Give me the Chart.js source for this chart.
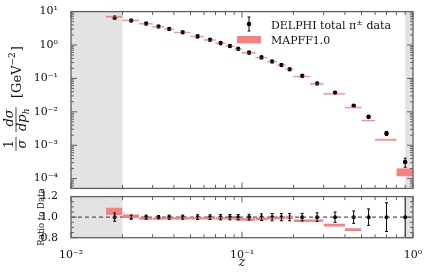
<!DOCTYPE html>
<html>
<head>
<meta charset="utf-8">
<script src="https://cdn.jsdelivr.net/npm/chart.js@4.4.0/dist/chart.umd.min.js"></script>
<style>
  html, body { margin: 0; padding: 0; background: #fff; }
  #wrap { position: relative; width: 427px; height: 273px; overflow: hidden; }
  canvas { position: absolute; left: 0; }
  #top { top: 0; }
  #bot { top: 185px; }
</style>
</head>
<body>
<div id="wrap">
  <canvas id="top" width="427" height="200"></canvas>
  <canvas id="bot" width="427" height="88"></canvas>
</div>
<script>
const FONT = "'DejaVu Serif', serif";
const PINK = 'rgb(248,128,128)';
const FRAME = '#606060';

// z bins of the DELPHI pi+- measurement
const zLo  = [0.016, 0.02, 0.025, 0.03, 0.035, 0.04, 0.05, 0.06, 0.07, 0.08, 0.09, 0.10, 0.12, 0.14, 0.16, 0.18, 0.20, 0.25, 0.30, 0.40, 0.50, 0.60, 0.80];
const zHi  = [0.02, 0.025, 0.03, 0.035, 0.04, 0.05, 0.06, 0.07, 0.08, 0.09, 0.10, 0.12, 0.14, 0.16, 0.18, 0.20, 0.25, 0.30, 0.40, 0.50, 0.60, 0.80, 1.00];
const zMid = [0.018, 0.0225, 0.0275, 0.0325, 0.0375, 0.045, 0.055, 0.065, 0.075, 0.085, 0.095, 0.11, 0.13, 0.15, 0.17, 0.19, 0.225, 0.275, 0.35, 0.45, 0.55, 0.70, 0.90];

// 1/sigma dsigma/dp_h [GeV^-2]
const delphi = [6.6, 5.42, 4.37, 3.58, 3.0, 2.41, 1.81, 1.43, 1.14, 0.936, 0.769, 0.591, 0.425, 0.32, 0.251, 0.189, 0.119, 0.0706, 0.0373, 0.0152, 0.00706, 0.00226, 0.000314];
// relative uncertainty of the data
const delphiErr = [0.04, 0.02, 0.02, 0.015, 0.02, 0.02, 0.023, 0.023, 0.026, 0.026, 0.026, 0.028, 0.032, 0.035, 0.035, 0.036, 0.037, 0.042, 0.05, 0.06, 0.08, 0.14, 0.3];

// MAPFF1.0 band, as ratio to data
const mapffLo = [1.02, 0.992, 0.974, 0.975, 0.976, 0.978, 0.978, 0.978, 0.978, 0.976, 0.968, 0.966, 0.97, 0.978, 0.979, 0.985, 0.953, 0.955, 0.91, 0.866, 0.77, 0.62, 0.38];
const mapffHi = [1.092, 1.027, 0.997, 0.995, 0.996, 1.0, 1.0, 1.0, 0.999, 0.997, 0.992, 0.99, 0.996, 1.0, 1.0, 1.013, 0.977, 0.977, 0.935, 0.892, 0.79, 0.66, 0.63];

// axis ranges and tick labels
const xRange = [0.01, 1];
const xTickVals = [0.01, 0.1, 1];
const xTickLabels = ['10\u207B\u00B2', '10\u207B\u00B9', '10\u2070'];
const yTopRange = [5.1e-5, 10];
const yTopTickVals = [1e-4, 1e-3, 1e-2, 1e-1, 1, 10];
const yTopTickLabels = ['10\u207B\u2074', '10\u207B\u00B3', '10\u207B\u00B2', '10\u207B\u00B9', '10\u2070', '10\u00B9'];
const ratioRange = [0.8, 1.2];
const ratioTickVals = [0.8, 1.0, 1.2];
const ratioTickLabels = ['0.8', '1.0', '1.2'];
const excluded = [[0.01, 0.02], [0.9, 1]];

function labelFor(vals, labels) {
  return function (v) {
    const i = vals.findIndex(t => Math.abs(Math.log10(t) - Math.log10(v)) < 1e-6);
    return i >= 0 ? labels[i] : '';
  };
}

function bandSets(lo, hi, bw, border) {
  const sets = [];
  zLo.forEach((a, i) => {
    const b = zHi[i];
    sets.push({ data: [{ x: a, y: hi[i] }, { x: b, y: hi[i] }], fill: '+1', backgroundColor: PINK,
      borderColor: border, borderWidth: bw, pointRadius: 0 });
    sets.push({ data: [{ x: a, y: lo[i] }, { x: b, y: lo[i] }], fill: false,
      borderColor: border, borderWidth: bw, pointRadius: 0 });
  });
  return sets;
}

function logMinor(lo, hi) {
  const out = [];
  for (let e = Math.floor(Math.log10(lo)); e <= Math.ceil(Math.log10(hi)); e++) {
    for (let k = 1; k <= 9; k++) {
      const v = k * Math.pow(10, e);
      if (v >= lo * 0.9999 && v <= hi * 1.0001) out.push({ v, major: k === 1 });
    }
  }
  return out;
}

// grey shaded z ranges
const shadePlugin = {
  id: 'shade',
  beforeDatasetsDraw(chart) {
    const { ctx, chartArea: a, scales: { x } } = chart;
    ctx.save();
    ctx.fillStyle = '#e3e3e3';
    excluded.forEach(([l, r]) => {
      const x1 = x.getPixelForValue(l), x2 = x.getPixelForValue(r);
      ctx.fillRect(x1, a.top, x2 - x1, a.height);
    });
    ctx.restore();
  }
};

function errorBars(chart, vals, errs, cap) {
  const { ctx, chartArea: a, scales: { x, y } } = chart;
  ctx.save();
  ctx.beginPath();
  ctx.rect(a.left, a.top, a.width, a.height);
  ctx.clip();
  ctx.strokeStyle = '#000';
  ctx.lineWidth = 1;
  zMid.forEach((z, i) => {
    const px = x.getPixelForValue(z);
    const y1 = y.getPixelForValue(vals[i] * (1 + errs[i]));
    const y2 = y.getPixelForValue(vals[i] * (1 - errs[i]));
    ctx.beginPath();
    ctx.moveTo(px, y1); ctx.lineTo(px, y2);
    ctx.moveTo(px - cap, y1); ctx.lineTo(px + cap, y1);
    ctx.moveTo(px - cap, y2); ctx.lineTo(px + cap, y2);
    ctx.stroke();
  });
  ctx.restore();
}

function frameAndTicks(chart, yTicks) {
  const { ctx, chartArea: a, scales: { x, y } } = chart;
  ctx.save();
  ctx.strokeStyle = FRAME;
  ctx.lineWidth = 1;
  ctx.beginPath();
  logMinor(xRange[0], xRange[1]).forEach(t => {
    const px = x.getPixelForValue(t.v);
    const len = t.major ? 6 : 3.5;
    ctx.moveTo(px, a.top); ctx.lineTo(px, a.top + len);
    ctx.moveTo(px, a.bottom); ctx.lineTo(px, a.bottom - len);
  });
  yTicks.forEach(t => {
    const py = y.getPixelForValue(t.v);
    const len = t.major ? 6 : 3;
    ctx.moveTo(a.left, py); ctx.lineTo(a.left + len, py);
    ctx.moveTo(a.right, py); ctx.lineTo(a.right - len, py);
  });
  ctx.stroke();
  ctx.lineWidth = 1.3;
  ctx.strokeRect(a.left, a.top, a.width, a.height);
  ctx.restore();
}

function rotText(ctx, txt, u, v, font, align) {
  ctx.font = font;
  ctx.textAlign = align || 'center';
  ctx.fillText(txt, u, v);
}

const topDeco = {
  id: 'topDeco',
  afterDatasetsDraw(chart) {
    errorBars(chart, delphi, delphiErr, 1.5);
    frameAndTicks(chart, logMinor(yTopRange[0], yTopRange[1]));
    const { ctx } = chart;
    // legend
    ctx.save();
    ctx.strokeStyle = '#000';
    ctx.fillStyle = '#000';
    ctx.lineWidth = 1;
    ctx.beginPath();
    ctx.moveTo(249, 17); ctx.lineTo(249, 31);
    ctx.moveTo(247.5, 17); ctx.lineTo(250.5, 17);
    ctx.moveTo(247.5, 31); ctx.lineTo(250.5, 31);
    ctx.stroke();
    ctx.beginPath(); ctx.arc(249, 24, 2.2, 0, Math.PI * 2); ctx.fill();
    ctx.fillStyle = PINK;
    ctx.fillRect(237, 36, 24, 7.5);
    ctx.fillStyle = '#111';
    ctx.font = `11px ${FONT}`;
    ctx.textBaseline = 'alphabetic';
    ctx.textAlign = 'left';
    const part1 = 'DELPHI total \u03C0';
    ctx.fillText(part1, 271, 28.5);
    let px = 271 + ctx.measureText(part1).width;
    ctx.font = `8px ${FONT}`;
    ctx.fillText('\u00B1', px, 24.5);
    px += ctx.measureText('\u00B1').width;
    ctx.font = `11px ${FONT}`;
    ctx.fillText(' data', px, 28.5);
    ctx.fillText('MAPFF1.0', 271, 44);
    // y title: 1/sigma dsigma/dp_h [GeV^-2]
    ctx.translate(16, 152);
    ctx.rotate(-Math.PI / 2);
    ctx.strokeStyle = '#111';
    ctx.lineWidth = 0.8;
    rotText(ctx, '1', 8, -3, `13px ${FONT}`);
    rotText(ctx, '\u03C3', 8, 10, `italic 13px ${FONT}`);
    ctx.beginPath(); ctx.moveTo(1, 0); ctx.lineTo(15, 0); ctx.stroke();
    rotText(ctx, 'd\u03C3', 34, -3, `italic 13px ${FONT}`);
    rotText(ctx, 'dp', 21, 10, `italic 13px ${FONT}`, 'left');
    const w = ctx.measureText('dp').width;
    rotText(ctx, 'h', 21 + w, 13, `italic 9px ${FONT}`, 'left');
    ctx.beginPath(); ctx.moveTo(20, 0); ctx.lineTo(21 + w + 7, 0); ctx.stroke();
    rotText(ctx, '[GeV', 54, 5, `13px ${FONT}`, 'left');
    const w2 = ctx.measureText('[GeV').width;
    rotText(ctx, '\u22122', 54 + w2, -1, `9px ${FONT}`, 'left');
    const w3 = ctx.measureText('\u22122').width;
    rotText(ctx, ']', 54 + w2 + w3 + 1, 5, `13px ${FONT}`, 'left');
    ctx.restore();
  }
};

const botDeco = {
  id: 'botDeco',
  afterDatasetsDraw(chart) {
    errorBars(chart, zMid.map(() => 1), delphiErr, 1.5);
    const ticks = [];
    for (let k = 0; k <= 8; k++) {
      const v = ratioRange[0] + k * 0.05;
      ticks.push({ v, major: k % 4 === 0 });
    }
    frameAndTicks(chart, ticks);
  }
};

const logX = { type: 'logarithmic', min: xRange[0], max: xRange[1] };

new Chart(document.getElementById('top'), {
  type: 'line',
  data: {
    datasets: [
      ...bandSets(delphi.map((d, i) => d * mapffLo[i]), delphi.map((d, i) => d * mapffHi[i]), 1.1, 'rgba(248,128,128,0.6)'),
      { data: zMid.map((z, i) => ({ x: z, y: delphi[i] })), showLine: false, pointRadius: 2.3,
        pointBackgroundColor: '#000', pointBorderWidth: 0, fill: false }
    ]
  },
  options: {
    responsive: false,
    animation: false,
    layout: { padding: { left: 0, right: 14, top: 9.3, bottom: 8.3 } },
    plugins: { legend: { display: false }, tooltip: { enabled: false } },
    scales: {
      x: { ...logX, display: false },
      y: {
        type: 'logarithmic', min: yTopRange[0], max: yTopRange[1],
        afterFit(s) { s.width = 71; },
        grid: { display: false }, border: { display: false },
        ticks: { autoSkip: false, padding: 5, color: '#111', font: { family: FONT, size: 11 },
          callback: labelFor(yTopTickVals, yTopTickLabels) }
      }
    }
  },
  plugins: [shadePlugin, topDeco]
});

new Chart(document.getElementById('bot'), {
  type: 'line',
  data: {
    datasets: [
      ...bandSets(mapffLo, mapffHi, 0, PINK),
      { data: [{ x: xRange[0], y: 1 }, { x: xRange[1], y: 1 }], borderColor: '#555', borderWidth: 1.2,
        borderDash: [4, 3], pointRadius: 0, fill: false },
      { data: zMid.map(z => ({ x: z, y: 1 })), showLine: false, pointRadius: 2,
        pointBackgroundColor: '#000', pointBorderWidth: 0, fill: false }
    ]
  },
  options: {
    responsive: false,
    animation: false,
    layout: { padding: { left: 0, right: 14, top: 6.7, bottom: 0 } },
    plugins: { legend: { display: false }, tooltip: { enabled: false } },
    scales: {
      x: {
        ...logX,
        afterFit(s) { s.height = 35.3; },
        grid: { display: false }, border: { display: false },
        ticks: { autoSkip: false, maxRotation: 0, padding: 2.5, color: '#111', font: { family: FONT, size: 11 },
          callback: labelFor(xTickVals, xTickLabels) },
        title: { display: true, text: 'z', color: '#111', font: { family: FONT, size: 13, style: 'italic' },
          padding: { top: 0, bottom: 2.5 } }
      },
      y: {
        min: ratioRange[0], max: ratioRange[1],
        afterFit(s) { s.width = 71; },
        grid: { display: false }, border: { display: false },
        ticks: { autoSkip: false, stepSize: 0.05, padding: 5, color: '#111', font: { family: FONT, size: 11 },
          callback(v) {
            const i = ratioTickVals.findIndex(t => Math.abs(t - v) < 1e-6);
            return i >= 0 ? ratioTickLabels[i] : '';
          } },
        title: { display: true, text: 'Ratio to Data', color: '#111', font: { family: FONT, size: 8.5 },
          padding: { top: 37, bottom: 0 } }
      }
    }
  },
  plugins: [shadePlugin, botDeco]
});
</script>
</body>
</html>
